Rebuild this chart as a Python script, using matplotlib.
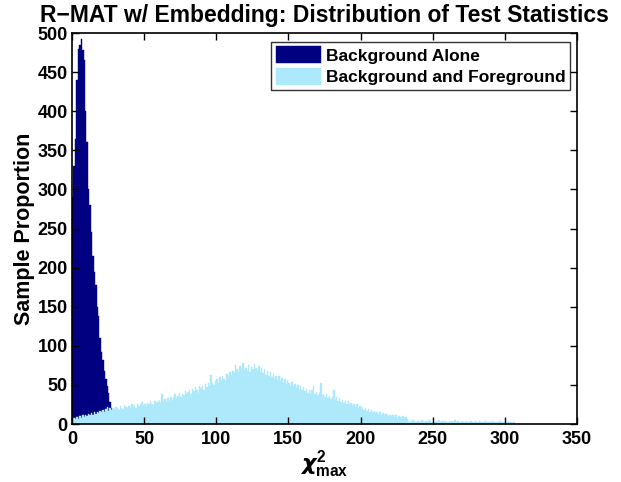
import numpy as np
import matplotlib
matplotlib.use('Agg')
import matplotlib.pyplot as plt

plt.rcParams['font.family'] = ['Liberation Sans', 'DejaVu Sans']
plt.rcParams['font.weight'] = 'bold'
plt.rcParams['mathtext.fontset'] = 'custom'
plt.rcParams['mathtext.rm'] = 'Liberation Sans:bold'
plt.rcParams['mathtext.it'] = 'DejaVu Sans:italic'
plt.rcParams['mathtext.bf'] = 'Liberation Sans:bold'

# counts per unit-wide bin, starting at 0
bg_alone = [290, 330, 365, 440, 480, 485, 492, 478, 465, 400,
            360, 300, 280, 245, 215, 195, 178, 150, 138, 110,
            92, 82, 68, 57, 48, 40, 28, 20, 12, 8, 4]

bg_fg = [5, 8, 6, 9, 7, 10, 8, 11, 9, 12,
         10, 13, 12, 14, 11, 15, 13, 16, 14, 17,
         15, 18, 16, 19, 22, 17, 20, 18, 21, 19,
         22, 20, 18, 23, 21, 19, 24, 22, 20, 23,
         21, 25, 22, 24, 20, 26, 23, 25, 28, 24,
         26, 23, 27, 25, 29, 26, 24, 30, 27, 28,
         31, 27, 38, 29, 32, 28, 33, 30, 35, 31,
         34, 38, 33, 36, 40, 35, 39, 37, 42, 38,
         41, 44, 39, 45, 42, 47, 43, 40, 49, 46,
         48, 44, 51, 47, 53, 49, 63, 52, 50, 55,
         57, 53, 60, 56, 62, 58, 55, 64, 61, 66,
         63, 68, 65, 76, 70, 67, 74, 71, 78, 69,
         72, 68, 75, 66, 73, 70, 77, 71, 69, 74,
         67, 72, 65, 70, 63, 68, 62, 66, 60, 64,
         58, 62, 56, 61, 55, 59, 53, 57, 51, 56,
         52, 49, 54, 48, 51, 46, 50, 44, 48, 43,
         47, 42, 45, 40, 44, 39, 43, 48, 38, 41,
         37, 40, 52, 36, 39, 34, 38, 33, 36, 32,
         35, 44, 31, 34, 29, 33, 28, 31, 27, 30,
         26, 29, 24, 27, 23, 26, 22, 25, 21, 23,
         19, 22, 18, 20, 17, 19, 16, 18, 15, 17,
         14, 16, 13, 15, 12, 14, 11, 13, 12, 10,
         12, 10, 11, 9, 11, 8, 10, 9, 8, 10,
         8, 9, 7, 3, 4, 3, 5, 4, 3, 4,
         4, 3, 5, 4, 3, 4, 3, 5, 4, 3,
         4, 3, 4, 3, 5, 3, 4, 3, 4, 3,
         3, 4, 3, 4, 3, 5, 3, 4, 3, 3,
         4, 3, 3, 4, 3, 3, 4, 3, 3, 4,
         3, 3, 4, 3, 3, 3, 4, 3, 3, 3,
         3, 4, 3, 3, 3, 3, 4, 3, 3, 3,
         3, 3, 4, 3, 3, 3, 2]

dark = '#000080'
light = '#ADE8FB'

fig = plt.figure(figsize=(6.21, 4.82), dpi=100)
ax = fig.add_axes([0.1159, 0.1203, 0.8132, 0.8112])

ax.bar(np.arange(len(bg_alone)), bg_alone, width=1, align='edge',
       color=dark, edgecolor=dark, linewidth=0.3, label='Background Alone')
ax.bar(np.arange(len(bg_fg)), bg_fg, width=1, align='edge',
       color=light, edgecolor=light, linewidth=0.3, label='Background and Foreground')
ax.axhline(0.6, xmin=0, xmax=310 / 350, color=dark, linewidth=0.8, linestyle=(0, (1, 1)))

ax.set_xlim(0, 350)
ax.set_ylim(0, 500)
ax.set_xticks(range(0, 351, 50))
ax.set_yticks(range(0, 501, 50))
ax.tick_params(direction='in', top=True, right=True, length=5, width=1,
               labelsize=13)
ax.tick_params(axis='x', pad=5)
ax.tick_params(axis='y', pad=3)
for s in ax.spines.values():
    s.set_linewidth(1.2)

ax.set_title('R\u2212MAT w/ Embedding: Distribution of Test Statistics',
             fontsize=16.5, fontweight='bold', pad=8)
ax.set_ylabel('Sample Proportion', fontsize=15.5, fontweight='bold', labelpad=2)
ax.set_xlabel(r'$\chi^{\mathrm{2}}_{\mathrm{max}}$', fontsize=16, labelpad=0)

leg = ax.legend(loc='upper right', bbox_to_anchor=(0.986, 0.977), fontsize=12.5,
                frameon=True, fancybox=False, edgecolor='black',
                handlelength=2.6, handleheight=1.1, borderpad=0.25,
                labelspacing=0.25, handletextpad=0.3, borderaxespad=0)
leg.get_frame().set_linewidth(1.0)

fig.savefig('out.png', dpi=100)
